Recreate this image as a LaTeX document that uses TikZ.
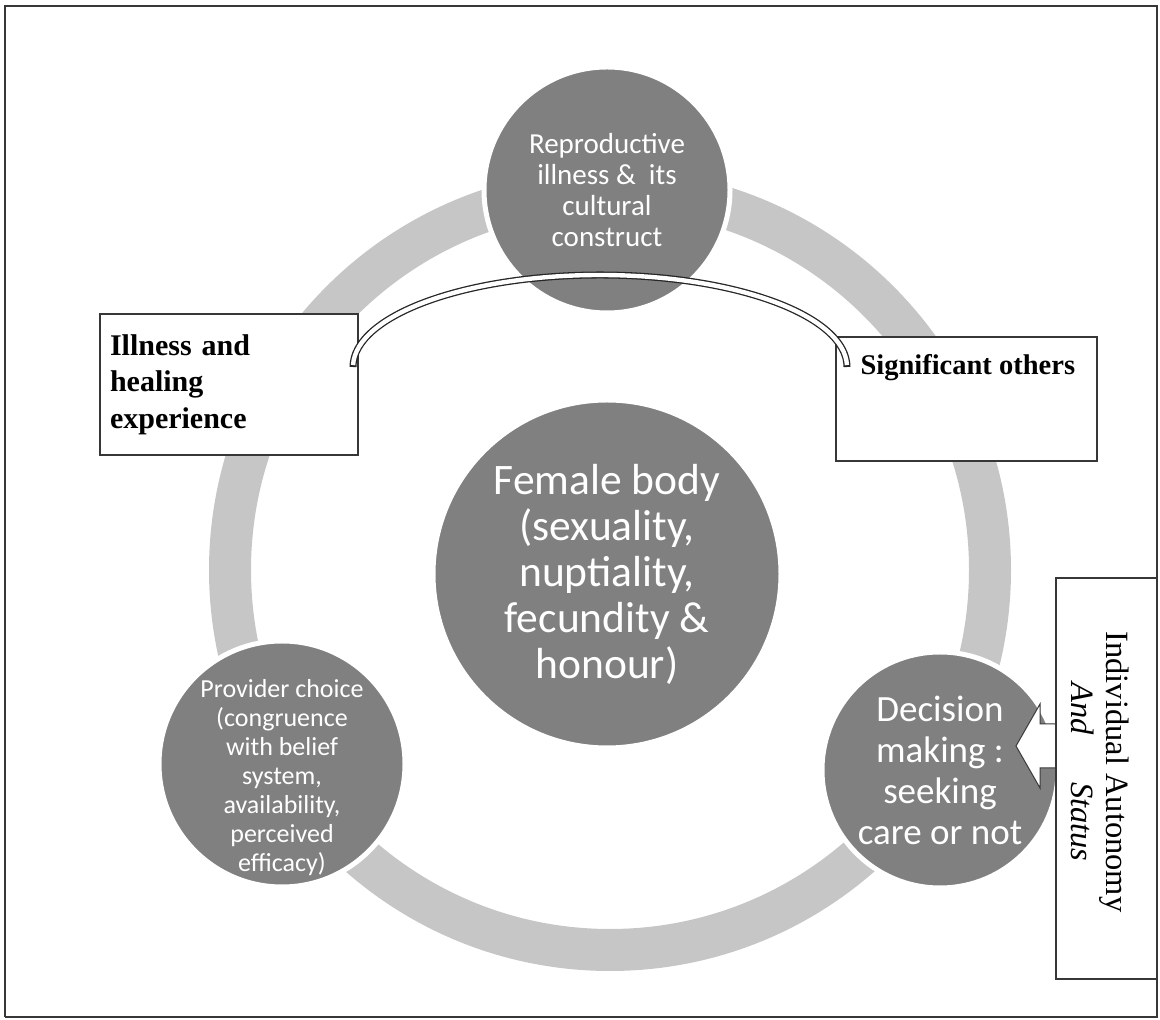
\documentclass[tikz,border=0pt]{standalone}
\usepackage{fontspec}
\setmainfont{Liberation Serif}
\setsansfont{Carlito}

\definecolor{ringgray}{RGB}{198,198,198}
\definecolor{bubblegray}{RGB}{128,128,128}
\definecolor{framegray}{RGB}{55,55,55}

\tikzset{
	bubble/.style={circle, fill=bubblegray, draw=white, line width=5pt, text=white, align=center, inner sep=0pt},
	infobox/.style={draw=framegray, line width=1.3pt, fill=white, inner sep=0pt},
}

\begin{document}
\begin{tikzpicture}[x=1pt, y=1pt]
	
	\useasboundingbox (0,0) rectangle (1160,1020);
	
	\draw[framegray, line width=1.3pt] (5,3) -- (1157,3) -- (1157,1014) -- (5,1014) -- (5,3);
	
	% the ring
	\draw[ringgray, line width=42pt] (610,450) circle (380);
	
	\node[bubble, minimum size=246pt, font=\sffamily\fontsize{29}{31}\selectfont] (repro) at (607,830) {Reproductive\\illness \&~ its\\cultural\\construct};
	\node[bubble, minimum size=348pt, font=\sffamily\fontsize{43.5}{46}\selectfont] (body) at (607,446) {Female body\\(sexuality,\\nuptiality,\\fecundity \&\\honour)};
	\node[bubble, minimum size=246pt] (provider) at (282,256) {};
	\node[text=white, align=center, font=\sffamily\fontsize{26}{29}\selectfont] (providertext) at (282,242) {Provider choice\\(congruence\\with belief\\system,\\availability,\\perceived\\efficacy)};
	\node[bubble, minimum size=236pt, font=\sffamily\fontsize{37}{41}\selectfont] (decision) at (940,250) {Decision\\making :\\seeking\\care or not};
	
	% white arrow into the decision bubble
	\filldraw[fill=white, draw=framegray, line width=1pt] (1056,296) -- (1040,296) -- (1040,316) -- (1016,274) -- (1040,232) -- (1040,252) -- (1056,252);
	
	\node[infobox, minimum width=258pt, minimum height=141pt, text width=238pt, align=left, font=\bfseries\fontsize{30}{36.5}\selectfont] (illness) at (229,635.5) {Illness and\\healing\\experience};
	
	\node[infobox, minimum width=261pt, minimum height=124pt] (others) at (966.5,621) {};
	\node[anchor=base west, font=\bfseries\fontsize{28.5}{34}\selectfont] (otherstext) at (857,645) {Significant others};
	
	\node[infobox, minimum width=101pt, minimum height=401pt] (autonomy) at (1106.5,241.5) {};
	\node[rotate=-90, align=center, font=\fontsize{32.5}{35}\selectfont] (autonomytext) at (1100.5,248) {Individual Autonomy\\\textit{And}\hspace{1.45em}\textit{Status}};
	
	% the tube over the top bubble
	\coordinate (tubemid) at (600,653);
	\draw[black!85, line width=7pt] ([shift={(tubemid)}]180:247 and 92) arc[start angle=180, end angle=0, x radius=247, y radius=92];
	\draw[white, line width=4.4pt] ([shift={(tubemid)}]178.8:247 and 92) arc[start angle=178.8, end angle=1.2, x radius=247, y radius=92];
	
\end{tikzpicture}
\end{document}
